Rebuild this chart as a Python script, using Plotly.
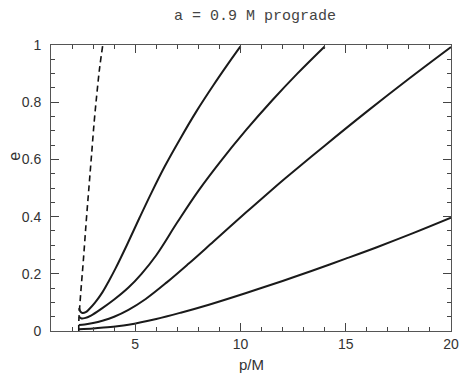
import plotly.graph_objects as go

# separatrix (dashed)
sep_p = [2.32, 2.32, 2.35, 2.43, 2.54, 2.67, 2.80, 2.92, 3.05, 3.18, 3.31, 3.46]
sep_e = [0.0, 0.03, 0.07, 0.15, 0.25, 0.38, 0.50, 0.61, 0.73, 0.83, 0.92, 1.0]

c1_p = [2.33, 2.40, 2.50, 2.65, 2.82, 3.10, 3.44, 3.75, 4.06, 4.60, 5.20, 5.77, 6.40, 7.16, 7.90, 8.72, 9.40, 10.0]
c1_e = [0.080, 0.068, 0.063, 0.066, 0.077, 0.100, 0.135, 0.175, 0.218, 0.300, 0.395, 0.483, 0.575, 0.675, 0.767, 0.860, 0.933, 0.995]

c2_p = [2.33, 2.45, 2.60, 2.90, 3.44, 4.00, 4.68, 5.30, 6.00, 7.00, 8.00, 9.00, 10.27, 11.50, 12.70, 14.0]
c2_e = [0.050, 0.044, 0.045, 0.054, 0.080, 0.110, 0.152, 0.200, 0.265, 0.380, 0.490, 0.588, 0.703, 0.806, 0.900, 0.995]

c3_p = [2.33, 2.60, 3.00, 3.44, 4.00, 4.68, 5.50, 6.50, 7.50, 8.72, 10.27, 11.51, 12.13, 14.0, 16.0, 18.0, 20.0]
c3_e = [0.021, 0.023, 0.028, 0.036, 0.050, 0.074, 0.112, 0.170, 0.233, 0.313, 0.415, 0.495, 0.534, 0.648, 0.767, 0.882, 0.993]

c4_p = [2.33, 3.00, 3.50, 4.06, 4.68, 6.00, 7.16, 8.50, 10.27, 12.0, 13.37, 15.0, 16.48, 18.2, 20.0]
c4_e = [0.006, 0.009, 0.012, 0.016, 0.022, 0.042, 0.064, 0.092, 0.133, 0.175, 0.210, 0.253, 0.293, 0.342, 0.396]

x_ticks = [5, 10, 15, 20]
y_ticks = [0, 0.2, 0.4, 0.6, 0.8, 1]
x_range = [1, 20]
y_range = [0, 1]

fig = go.Figure()
fig.add_trace(go.Scatter(x=sep_p, y=sep_e, mode="lines",
                         line=dict(color="#111", width=1.6, dash="6px,4px", shape="spline"),
                         showlegend=False))
for px, ey in [(c1_p, c1_e), (c2_p, c2_e), (c3_p, c3_e), (c4_p, c4_e)]:
    fig.add_trace(go.Scatter(x=px, y=ey, mode="lines",
                             line=dict(color="#1a1a1a", width=2, shape="spline", smoothing=1.0),
                             showlegend=False))
# empty trace so the overlay (minor-tick) axes are drawn
fig.add_trace(go.Scatter(x=[], y=[], xaxis="x2", yaxis="y2", showlegend=False, hoverinfo="skip"))

axcol = "#444"
tickfont = dict(family="Liberation Sans, Arial, sans-serif", size=14, color="#333")

fig.update_layout(
    width=468, height=375,
    margin=dict(l=51, r=9, t=45, b=44),
    paper_bgcolor="white", plot_bgcolor="white",
    xaxis=dict(range=x_range, tickmode="linear", tick0=0, dtick=x_ticks[1] - x_ticks[0],
               ticks="inside", ticklen=8, tickwidth=1.2, tickcolor=axcol,
               showline=True, linecolor="#555", linewidth=1, mirror="allticks",
               showgrid=False, zeroline=False, tickfont=tickfont),
    yaxis=dict(range=y_range, tickmode="linear", tick0=0, dtick=y_ticks[1] - y_ticks[0],
               ticks="inside", ticklen=8, tickwidth=1.2, tickcolor=axcol,
               showline=True, linecolor="#555", linewidth=1, mirror="allticks",
               showgrid=False, zeroline=False, tickfont=tickfont, ticklabelstandoff=6),
    xaxis2=dict(range=x_range, overlaying="x", anchor="y", tickmode="linear", tick0=0, dtick=1,
                ticks="inside", ticklen=4, tickwidth=1.2, tickcolor=axcol, showticklabels=False,
                showline=False, mirror="allticks", showgrid=False, zeroline=False),
    yaxis2=dict(range=y_range, overlaying="y", anchor="x", tickmode="linear", tick0=0, dtick=0.05,
                ticks="inside", ticklen=4, tickwidth=1.2, tickcolor=axcol, showticklabels=False,
                showline=False, mirror="allticks", showgrid=False, zeroline=False),
    title=dict(text="a = 0.9 M prograde", x=0.545, xanchor="center", y=1 - 15/375, yanchor="middle",
               font=dict(family="Liberation Mono, Courier New, monospace", size=15, color="#444")),
    annotations=[
        dict(text="p/M", xref="paper", yref="paper", x=0.5, y=-(364 - 331) / 286,
             xanchor="center", yanchor="middle", showarrow=False,
             font=dict(family="Liberation Sans, Arial, sans-serif", size=15, color="#333")),
        dict(text="e", xref="paper", yref="paper", x=(13 - 51) / 408, y=(331 - 156) / 286,
             xanchor="center", yanchor="middle", showarrow=False, textangle=-90,
             font=dict(family="Liberation Sans, Arial, sans-serif", size=16, color="#333")),
    ],
)

fig.write_html("out.html")
